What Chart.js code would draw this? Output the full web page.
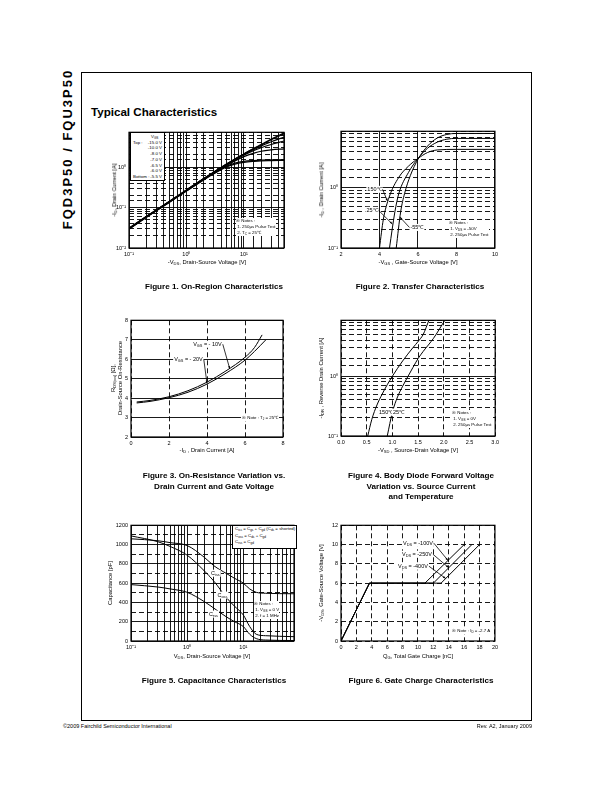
<!DOCTYPE html>
<html>
<head>
<meta charset="utf-8">
<script src="https://cdn.jsdelivr.net/npm/chart.js@4.4.1/dist/chart.umd.min.js"></script>
<style>
body{margin:0;width:612px;height:792px;position:relative;background:#fff;font-family:"Liberation Sans",Arial,sans-serif;color:#000;overflow:hidden}
canvas{position:absolute}
.t{position:absolute;white-space:nowrap;line-height:1}
.c{transform:translate(-50%,-50%)}
.r{transform:translate(-50%,-50%) rotate(-90deg)}
.ax{font-size:5.8px}
.cap{font-weight:bold;font-size:8.1px;text-align:center;line-height:10.5px;transform:translate(-50%,0)}
.note{position:absolute;background:#fff;font-size:4.4px;line-height:6px;white-space:nowrap}
sub{font-size:70%;vertical-align:-0.3em;line-height:0}
</style>
</head>
<body>
<div style="position:absolute;left:81px;top:72px;width:449px;height:647px;border:1px solid #000"></div>
<div class="t r" style="left:67px;top:149px;font-weight:bold;font-size:13px;letter-spacing:2px">FQD3P50 / FQU3P50</div>
<div class="t" style="left:91px;top:106px;font-weight:bold;font-size:11.6px">Typical Characteristics</div>

<canvas id="c1"></canvas><canvas id="c2"></canvas><canvas id="c3"></canvas>
<canvas id="c4"></canvas><canvas id="c5"></canvas><canvas id="c6"></canvas>

<!-- figure 1 -->
<div class="note" style="left:130px;top:132px;width:33px;height:46px;border:1px solid #000;line-height:5.7px;padding-top:1px">
  <div style="padding-left:20px">V<sub>GS</sub></div>
  <div id="vgsRows"></div>
</div>
<div class="note" style="left:236px;top:218px">※ Notes :<br>&nbsp;1. 250μs Pulse Test<br>&nbsp;2. T<sub>C</sub> = 25℃</div>
<div class="t r ax" style="left:115px;top:190px">-I<sub>D</sub>, Drain Current [A]</div>
<div class="t c ax" style="left:207px;top:263px">-V<sub>DS</sub>, Drain-Source Voltage [V]</div>
<div class="t cap" style="left:214px;top:282px">Figure 1. On-Region Characteristics</div>

<!-- figure 2 -->
<div class="note" style="left:449px;top:220px">※ Notes :<br>&nbsp;1. V<sub>DS</sub> = -50V<br>&nbsp;2. 250μs Pulse Test</div>
<div class="t r ax" style="left:322px;top:190px">-I<sub>D</sub> , Drain Current [A]</div>
<div class="t c ax" style="left:418px;top:263px">-V<sub>GS</sub> , Gate-Source Voltage [V]</div>
<div class="t cap" style="left:420px;top:282px">Figure 2. Transfer Characteristics</div>

<!-- figure 3 -->
<div class="note" style="left:241px;top:415px;padding:0 1px">※ Note : T<sub>J</sub> = 25℃</div>
<div class="t r ax" style="left:114px;top:378px">R<sub>DS(on)</sub> [Ω],</div>
<div class="t r ax" style="left:121px;top:378px">Drain-Source On-Resistance</div>
<div class="t c ax" style="left:207px;top:451px">-I<sub>D</sub> , Drain Current [A]</div>
<div class="t cap" style="left:214px;top:471px">Figure 3. On-Resistance Variation vs.<br>Drain Current and Gate Voltage</div>

<!-- figure 4 -->
<div class="note" style="left:452px;top:410px">※ Notes :<br>&nbsp;1. V<sub>GS</sub> = 0V<br>&nbsp;2. 250μs Pulse Test</div>
<div class="t r ax" style="left:322px;top:378px">-I<sub>DR</sub> , Reverse Drain Current [A]</div>
<div class="t c ax" style="left:418px;top:451px">-V<sub>SD</sub> , Source-Drain Voltage [V]</div>
<div class="t cap" style="left:421px;top:471px">Figure 4. Body Diode Forward Voltage<br>Variation vs. Source Current<br>and Temperature</div>

<!-- figure 5 -->
<div class="note" style="left:232px;top:525px;width:61px;height:22px;border:1px solid #000;padding-left:2px;line-height:6.5px">C<sub>iss</sub> = C<sub>gs</sub> + C<sub>gd</sub> (C<sub>ds</sub> = shorted)<br>C<sub>oss</sub> = C<sub>ds</sub> + C<sub>gd</sub><br>C<sub>rss</sub> = C<sub>gd</sub></div>
<div class="note" style="left:254px;top:601px">※ Notes :<br>&nbsp;1. V<sub>GS</sub> = 0 V<br>&nbsp;2. f = 1 MHz</div>
<div class="t r ax" style="left:111px;top:583px">Capacitance [pF]</div>
<div class="t c ax" style="left:212px;top:657px">V<sub>DS</sub>, Drain-Source Voltage [V]</div>
<div class="t cap" style="left:214px;top:676px">Figure 5. Capacitance Characteristics</div>

<!-- figure 6 -->
<div class="note" style="left:452px;top:628px">※ Note : I<sub>D</sub> = -2.7 A</div>
<div class="t r ax" style="left:322px;top:583px">-V<sub>GS</sub>, Gate-Source Voltage [V]</div>
<div class="t c ax" style="left:418px;top:657px">Q<sub>G</sub>, Total Gate Charge [nC]</div>
<div class="t cap" style="left:421px;top:676px">Figure 6. Gate Charge Characteristics</div>

<div class="t" style="left:63px;top:724px;font-size:5.5px">©2009 Fairchild Semiconductor International</div>
<div class="t" style="right:80px;top:724px;font-size:5.5px">Rev. A2, January 2009</div>

<script>
// ---- data ----
// Figure 1: output characteristics
const vds1 = [0.1, 0.2, 0.5, 1, 2, 3, 5, 7, 10, 15, 20, 30, 50];
const vgs1Names = ['-15.0 V', '-10.0 V', '-8.0 V', '-7.0 V', '-6.5 V', '-6.0 V', '-5.5 V'];
const id1 = [
  [0.031, 0.060, 0.140, 0.270, 0.52, 0.75, 1.18, 1.58, 2.10, 2.90, 3.60, 4.90, 6.90],
  [0.031, 0.060, 0.140, 0.270, 0.52, 0.75, 1.18, 1.58, 2.10, 2.85, 3.50, 4.70, 6.60],
  [0.030, 0.059, 0.138, 0.265, 0.51, 0.74, 1.16, 1.55, 2.05, 2.70, 3.30, 4.20, 5.50],
  [0.030, 0.059, 0.137, 0.262, 0.505, 0.73, 1.14, 1.50, 1.95, 2.55, 3.00, 3.60, 4.40],
  [0.030, 0.058, 0.136, 0.260, 0.50, 0.72, 1.10, 1.42, 1.80, 2.20, 2.45, 2.65, 2.80],
  [0.030, 0.058, 0.135, 0.258, 0.49, 0.70, 1.05, 1.25, 1.38, 1.45, 1.48, 1.50, 1.52],
  [0.029, 0.057, 0.133, 0.255, 0.48, 0.68, 1.00, 1.18, 1.30, 1.38, 1.42, 1.44, 1.46]
];

// Figure 2: transfer characteristics (150C, 25C, -55C)
const vgs2_150 = [4.0, 4.2, 4.5, 5.0, 5.5, 6.0, 6.5, 7.0, 8.0, 10.0];
const id2_150 = [0.1, 0.3, 0.7, 1.5, 2.3, 3.1, 3.9, 4.3, 4.4, 4.4];
const vgs2_25 = [4.52, 4.8, 5.0, 5.5, 6.0, 6.5, 7.0, 7.5, 8.0, 10.0];
const id2_25 = [0.1, 0.4, 0.8, 1.8, 3.1, 4.6, 5.8, 6.5, 6.7, 6.7];
const vgs2_m55 = [4.87, 5.1, 5.3, 5.6, 6.0, 6.5, 7.0, 7.5, 8.0, 10.0];
const id2_m55 = [0.1, 0.4, 0.8, 1.6, 3.0, 5.0, 6.8, 7.8, 8.1, 8.1];

// Figure 3: on-resistance vs drain current
const id3_10 = [0.3, 1, 2, 3, 4, 5, 6, 6.5, 6.9];
const rds3_10 = [3.80, 3.88, 4.07, 4.38, 4.82, 5.40, 6.10, 6.60, 7.25];
const id3_20 = [0.3, 1, 2, 3, 4, 5, 6, 6.5, 7.1];
const rds3_20 = [3.75, 3.83, 4.02, 4.30, 4.72, 5.28, 5.95, 6.40, 7.00];

// Figure 4: body diode forward voltage (150C, 25C)
const vsd4_150 = [0.52, 0.6, 0.7, 0.8, 0.9, 1.0, 1.2, 1.4, 1.5, 1.6, 1.71];
const idr4_150 = [0.1, 0.19, 0.33, 0.5, 0.72, 1.0, 1.8, 3.0, 3.8, 5.0, 8.6];
const vsd4_25 = [0.9, 1.0, 1.1, 1.2, 1.3, 1.4, 1.5, 1.6, 1.8, 2.02];
const idr4_25 = [0.1, 0.25, 0.45, 0.68, 0.98, 1.4, 1.97, 2.6, 4.3, 8.6];

// Figure 5: capacitances
const vds5 = [0.1, 0.3, 0.5, 1, 2, 3, 5, 7, 10, 13, 17, 25, 80];
const ciss5 = [1060, 1040, 1020, 990, 870, 780, 700, 650, 600, 540, 505, 495, 490];
const coss5 = [1090, 1030, 980, 890, 730, 620, 450, 360, 270, 150, 70, 55, 45];
const crss5 = [585, 560, 540, 505, 410, 340, 250, 200, 150, 70, 25, 10, 5];

// Figure 6: gate charge (-100V, -250V, -400V)
const qg6_100 = [0, 3.7, 10.9, 16.0];
const qg6_250 = [0, 3.7, 12.0, 17.0];
const qg6_400 = [0, 3.7, 13.0, 18.0];
const vgs6 = [0, 6, 6, 10];

// ---- helpers ----
const PAD_L = 24, PAD_T = 6, PAD_R = 6, PAD_B = 14;
const FONT = {family: 'Liberation Sans', size: 5.5};
const DASH = [5, 3];
const SUP = {'-': '⁻', '0': '⁰', '1': '¹', '2': '²', '3': '³'};

const isDecade = v => Math.abs(Math.log10(v) - Math.round(Math.log10(v))) < 1e-9;
const decLabel = v => isDecade(v) ? '10' + String(Math.round(Math.log10(v))).split('').map(ch => SUP[ch]).join('') : '';
const logDash = c => (c.tick && !isDecade(c.tick.value)) ? DASH : [];
const allDash = () => DASH;
const noDash = () => [];
const zip = (xs, ys) => xs.map((x, i) => ({x: x, y: ys[i]}));

document.getElementById('vgsRows').innerHTML = vgs1Names.map((n, i) =>
  '<div style="display:flex;justify-content:space-between;padding:0 2px">' +
  '<span>' + (i === 0 ? 'Top :' : i === vgs1Names.length - 1 ? 'Bottom :' : '') + '</span><span>' + n + '</span></div>').join('');

function place(id, L, T, R, B) {
  const c = document.getElementById(id);
  c.width = R - L + PAD_L + PAD_R;
  c.height = B - T + PAD_T + PAD_B;
  c.style.left = (L - PAD_L) + 'px';
  c.style.top = (T - PAD_T) + 'px';
  c.style.width = c.width + 'px';
  c.style.height = c.height + 'px';
  return c;
}

function scale(type, pos, min, max, dash, label, step) {
  const s = {
    type: type, position: pos, min: min, max: max,
    grid: {color: '#000', lineWidth: 0.9, drawTicks: false},
    border: {display: false, dash: dash},
    ticks: {font: FONT, color: '#000', padding: 3, autoSkip: false, maxRotation: 0, callback: label},
    afterFit: pos === 'left' ? (a => { a.width = PAD_L; }) : (a => { a.height = PAD_B; })
  };
  if (step) s.ticks.stepSize = step;
  return s;
}

function line(points, width, smooth) {
  return {data: points, borderColor: '#000', borderWidth: width || 1, pointRadius: 0, fill: false,
          cubicInterpolationMode: smooth === false ? 'default' : 'monotone', tension: 0};
}

const framePlugin = {
  id: 'frame',
  afterDraw(chart) {
    const {ctx, chartArea: a} = chart;
    ctx.save();
    ctx.strokeStyle = '#000';
    ctx.lineWidth = 1.2;
    ctx.strokeRect(a.left, a.top, a.right - a.left, a.bottom - a.top);
    ctx.restore();
  }
};

// rich text: parts = [[text, isSub], ...]
function richWidth(ctx, parts, size) {
  let w = 0;
  parts.forEach(p => { ctx.font = (p[1] ? size * 0.7 : size) + 'px "Liberation Sans"'; w += ctx.measureText(p[0]).width; });
  return w;
}
function drawRich(ctx, parts, x, y, size) {
  let cx = x;
  parts.forEach(p => {
    ctx.font = (p[1] ? size * 0.7 : size) + 'px "Liberation Sans"';
    ctx.fillText(p[0], cx, p[1] ? y + size * 0.25 : y);
    cx += ctx.measureText(p[0]).width;
  });
}

// callouts: {parts, at:[x,y] (text left-middle, data units), tip:[x,y] or null, center}
function callouts(items) {
  return {
    id: 'callouts',
    afterDatasetsDraw(chart) {
      const ctx = chart.ctx, sx = chart.scales.x, sy = chart.scales.y, size = 5.5;
      ctx.save();
      ctx.textBaseline = 'middle';
      items.forEach(it => {
        const w = richWidth(ctx, it.parts, size);
        let px = sx.getPixelForValue(it.at[0]);
        const py = sy.getPixelForValue(it.at[1]);
        if (it.center) px -= w / 2;
        ctx.fillStyle = '#fff';
        ctx.fillRect(px - 1, py - 3.5, w + 2, 7);
        ctx.fillStyle = '#000';
        drawRich(ctx, it.parts, px, py, size);
        if (it.tip) {
          const tx = sx.getPixelForValue(it.tip[0]), ty = sy.getPixelForValue(it.tip[1]);
          const fx = tx > px + w ? px + w + 1 : px - 1;
          ctx.strokeStyle = '#000';
          ctx.lineWidth = 0.8;
          ctx.beginPath(); ctx.moveTo(fx, py); ctx.lineTo(tx, ty); ctx.stroke();
          const ang = Math.atan2(ty - py, tx - fx);
          ctx.beginPath();
          ctx.moveTo(tx, ty);
          ctx.lineTo(tx - 3 * Math.cos(ang - 0.35), ty - 3 * Math.sin(ang - 0.35));
          ctx.lineTo(tx - 3 * Math.cos(ang + 0.35), ty - 3 * Math.sin(ang + 0.35));
          ctx.closePath(); ctx.fill();
        }
      });
      ctx.restore();
    }
  };
}

function make(id, box, datasets, xs, ys, items) {
  const c = place(id, box[0], box[1], box[2], box[3]);
  return new Chart(c, {
    type: 'line',
    data: {datasets: datasets},
    options: {
      responsive: false, animation: false, events: [], parsing: true,
      layout: {padding: {top: PAD_T, right: PAD_R, left: 0, bottom: 0}},
      plugins: {legend: {display: false}, tooltip: {enabled: false}},
      scales: {x: xs, y: ys}
    },
    plugins: [framePlugin, callouts(items || [])]
  });
}

const GS = t => [['V', false], ['GS', true], [t, false]];
const DS = t => [['V', false], ['DS', true], [t, false]];

// ---- charts ----
var onRegionChart = make('c1', [129, 132, 284, 248],
  id1.map(ys => line(zip(vds1, ys), 1.2)),
  scale('logarithmic', 'bottom', 0.1, 50, noDash, decLabel),
  scale('logarithmic', 'left', 0.01, 7.2, logDash, decLabel));

var transferChart = make('c2', [341, 131, 495, 248],
  [line(zip(vgs2_150, id2_150)), line(zip(vgs2_25, id2_25)), line(zip(vgs2_m55, id2_m55))],
  scale('linear', 'bottom', 2, 10, noDash, v => v, 2),
  scale('logarithmic', 'left', 0.1, 8.8, logDash, decLabel),
  [{parts: [['150℃', false]], at: [3.37, 0.95], tip: [4.42, 0.6]},
   {parts: [['25℃', false]], at: [3.32, 0.425], tip: [4.67, 0.25]},
   {parts: [['-55℃', false]], at: [5.61, 0.22], tip: [5.05, 0.33]}]);

var rdsChart = make('c3', [131, 320, 283, 437],
  [line(zip(id3_10, rds3_10)), line(zip(id3_20, rds3_20))],
  scale('linear', 'bottom', 0, 8, allDash, v => v, 2),
  scale('linear', 'left', 2, 8, noDash, v => v, 1),
  [{parts: GS(' = - 10V'), at: [3.27, 6.77], tip: [5.2, 5.5]},
   {parts: GS(' = - 20V'), at: [2.27, 5.99], tip: [4.0, 4.75]}]);

var diodeChart = make('c4', [341, 320, 496, 436],
  [line(zip(vsd4_150, idr4_150)), line(zip(vsd4_25, idr4_25))],
  scale('linear', 'bottom', 0, 3, allDash, v => v.toFixed(1), 0.5),
  scale('logarithmic', 'left', 0.1, 8.6, logDash, decLabel),
  [{parts: [['150℃', false]], at: [0.74, 0.25]},
   {parts: [['25℃', false]], at: [1.01, 0.25]}]);

var capChart = make('c5', [131, 525, 294, 641],
  [line(zip(vds5, ciss5)), line(zip(vds5, coss5)), line(zip(vds5, crss5))],
  scale('logarithmic', 'bottom', 0.1, 80, noDash, decLabel),
  scale('linear', 'left', 0, 1200, c => (c.tick && c.tick.value % 200 !== 0) ? DASH : [], v => v % 200 === 0 ? v : '', 100),
  [{parts: [['C', false], ['iss', true]], at: [3.19, 703], center: true},
   {parts: [['C', false], ['oss', true]], at: [4.25, 476], center: true},
   {parts: [['C', false], ['rss', true]], at: [2.94, 279], center: true}]);

var gateChart = make('c6', [341, 525, 495, 641],
  [line(zip(qg6_100, vgs6), 1, false), line(zip(qg6_250, vgs6), 1, false), line(zip(qg6_400, vgs6), 1, false)],
  scale('linear', 'bottom', 0, 20, allDash, v => v, 2),
  scale('linear', 'left', 0, 12, allDash, v => v, 2),
  [{parts: DS(' = -100V'), at: [8.05, 10.14], tip: [13.9, 8.35]},
   {parts: DS(' = -250V'), at: [7.92, 9.0], tip: [14.0, 7.6]},
   {parts: DS(' = -400V'), at: [7.4, 7.76], tip: [13.6, 6.48]}]);
</script>
</body>
</html>
